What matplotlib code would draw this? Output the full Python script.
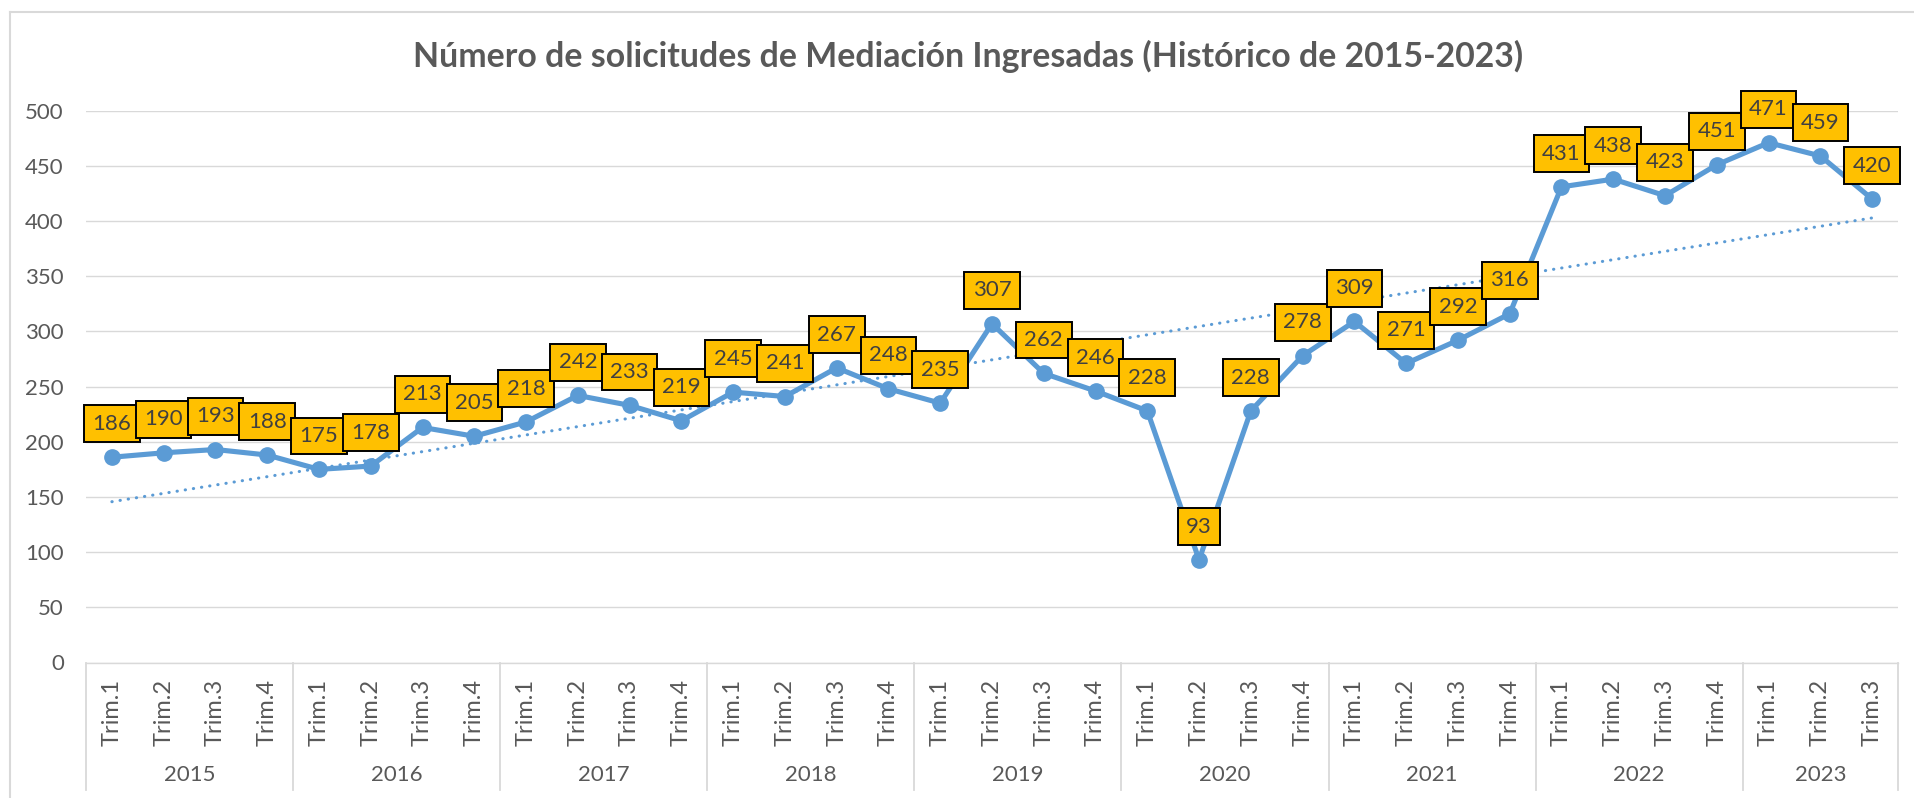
import matplotlib
matplotlib.use("Agg")
import matplotlib.pyplot as plt
import matplotlib.transforms as mtransforms
from matplotlib.lines import Line2D
import numpy as np

# ---- data -------------------------------------------------------------
years = ["2015", "2016", "2017", "2018", "2019", "2020", "2021", "2022", "2023"]
quarters_per_year = [4, 4, 4, 4, 4, 4, 4, 4, 3]
quarter_labels = ["Trim.1", "Trim.2", "Trim.3", "Trim.4"]
solicitudes = [186, 190, 193, 188,
               175, 178, 213, 205,
               218, 242, 233, 219,
               245, 241, 267, 248,
               235, 307, 262, 246,
               228, 93, 228, 278,
               309, 271, 292, 316,
               431, 438, 423, 451,
               471, 459, 420]
title = "Número de solicitudes de Mediación Ingresadas (Histórico de 2015-2023)"

# ---- style ------------------------------------------------------------
W, H, DPI = 1914, 798, 100
LINE_BLUE = "#5B9BD5"
GRID = "#D9D9D9"
TEXT = "#595959"
BOX = "#FFC000"
plt.rcParams["font.family"] = ["Lato", "DejaVu Sans"]

tick_labels = [quarter_labels[q] for n in quarters_per_year for q in range(n)]
x = np.arange(len(solicitudes))

fig = plt.figure(figsize=(W / DPI, H / DPI), dpi=DPI)
# axes in pixel geometry of the reference
left, right, top, bottom = 86, 1898, 110.7, 662.5
ax = fig.add_axes([left / W, 1 - bottom / H, (right - left) / W, (bottom - top) / H])

ax.set_xlim(-0.5, len(x) - 0.5)
ax.set_ylim(0, 500)
ax.set_yticks(range(0, 501, 50))
ax.yaxis.grid(True, color=GRID, linewidth=1.0)
ax.set_axisbelow(True)
for side in ("left", "right", "top"):
    ax.spines[side].set_visible(False)
ax.spines["bottom"].set_color(GRID)
ax.spines["bottom"].set_linewidth(1.0)
ax.tick_params(axis="y", length=0, pad=16, labelsize=16, labelcolor=TEXT)

ax.set_xticks(x)
ax.set_xticklabels(tick_labels, rotation=90, fontsize=17, color=TEXT, va="top")
ax.tick_params(axis="x", length=0, pad=12)

# series + linear trendline
ax.plot(x, solicitudes, color=LINE_BLUE, linewidth=3.7, marker="o",
        markersize=11, zorder=3)
coef = np.polyfit(x, solicitudes, 1)
ax.plot(x, np.polyval(coef, x), color=LINE_BLUE, linewidth=2.2,
        linestyle=(0, (0.1, 2.6)), dash_capstyle="round", zorder=2)

# data labels in boxes above the points
for xi, v in zip(x, solicitudes):
    ax.annotate(str(v), (xi, v), xytext=(0, 24), textcoords="offset points",
                ha="center", va="center", fontsize=16, color="#404040",
                bbox=dict(boxstyle="square,pad=0.38", facecolor=BOX,
                          edgecolor="black", linewidth=1.4),
                zorder=5, annotation_clip=False)

# multi-level category axis: year separators + year labels
trans = mtransforms.blended_transform_factory(ax.transData, ax.transAxes)
sep_bottom = -(790 - bottom) / (bottom - top)
year_y = -(775 - bottom) / (bottom - top)
start = 0
bounds = [-0.5]
for yr, n in zip(years, quarters_per_year):
    ax.text(start + (n - 1) / 2, year_y, yr, transform=trans, ha="center",
            va="center", fontsize=16, color=TEXT)
    start += n
    bounds.append(start - 0.5)
for b in bounds:
    ax.add_line(Line2D([b, b], [0, sep_bottom], transform=trans, color=GRID,
                       linewidth=1.3, clip_on=False))

# chart-area border (only top and left edges fall inside the picture)
fig.add_artist(Line2D([10 / W, 1], [1 - 12 / H, 1 - 12 / H], color=GRID,
                      linewidth=1.5, transform=fig.transFigure))
fig.add_artist(Line2D([10 / W, 10 / W], [0, 1 - 12 / H], color=GRID,
                      linewidth=1.5, transform=fig.transFigure))

fig.text(968 / W, 1 - 67 / H, title, ha="center", va="baseline",
         fontsize=24.4, fontweight="bold", color=TEXT)

fig.savefig("out.png", dpi=DPI, facecolor="white")
plt.close(fig)
